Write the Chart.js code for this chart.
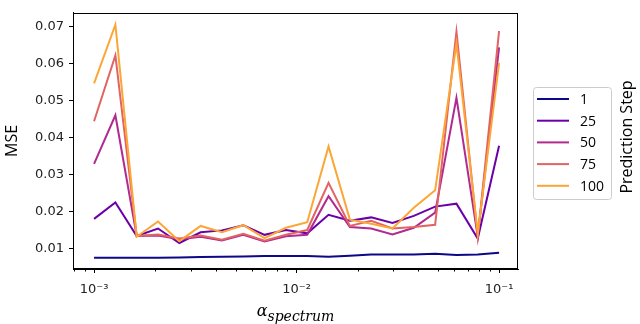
<!DOCTYPE html>
<html>
<head>
<meta charset="utf-8">
<script src="https://cdn.jsdelivr.net/npm/chart.js@4.4.0/dist/chart.umd.min.js"></script>
<style>
  html, body { margin: 0; padding: 0; background: #fff; }
  #wrap { width: 640px; height: 324px; }
</style>
</head>
<body>
<div id="wrap"><canvas id="mseChart" width="640" height="324"></canvas></div>
<script>
// alpha_spectrum values (x)
const alphas = [0.001, 0.0012743, 0.0016238, 0.0020691, 0.0026367, 0.0033598, 0.0042813,
  0.0054556, 0.0069519, 0.0088587, 0.011288, 0.014384, 0.018330, 0.023357, 0.029764,
  0.037927, 0.048329, 0.061585, 0.078476, 0.1];

// MSE per prediction step
const step1 = [0.0076, 0.0076, 0.0076, 0.0076, 0.0077, 0.0078, 0.0079, 0.0080, 0.0081, 0.0081,
  0.0081, 0.0079, 0.0082, 0.0085, 0.0085, 0.0085, 0.0087, 0.0084, 0.0085, 0.0090];
const step25 = [0.0181, 0.0225, 0.0135, 0.0155, 0.0116, 0.0145, 0.0150, 0.0164, 0.0138, 0.0151,
  0.0142, 0.0192, 0.0176, 0.0185, 0.0170, 0.0189, 0.0214, 0.0222, 0.0128, 0.0378];
const step50 = [0.0329, 0.0460, 0.0135, 0.0136, 0.0126, 0.0133, 0.0123, 0.0138, 0.0120, 0.0134,
  0.0138, 0.0242, 0.0159, 0.0155, 0.0139, 0.0157, 0.0198, 0.0507, 0.0133, 0.0643];
const step75 = [0.0444, 0.0621, 0.0135, 0.0139, 0.0128, 0.0136, 0.0125, 0.0141, 0.0122, 0.0138,
  0.0151, 0.0278, 0.0162, 0.0176, 0.0155, 0.0159, 0.0165, 0.0685, 0.0133, 0.0687];
const step100 = [0.0546, 0.0704, 0.0133, 0.0174, 0.0121, 0.0162, 0.0145, 0.0164, 0.0129, 0.0157,
  0.0172, 0.0376, 0.0179, 0.0168, 0.0155, 0.0211, 0.0258, 0.0653, 0.0142, 0.0601];

const stepLabels = ["1", "25", "50", "75", "100"];
const stepColors = ["#0d0887", "#6a00a8", "#b12a90", "#e16462", "#fca636"];

const yTicks = [0.01, 0.02, 0.03, 0.04, 0.05, 0.06, 0.07];
const xMajor = [0.001, 0.01, 0.1];
const xMinor = [0.0008, 0.0009, 0.002, 0.003, 0.004, 0.005, 0.006, 0.007, 0.008, 0.009,
  0.02, 0.03, 0.04, 0.05, 0.06, 0.07, 0.08, 0.09];
const xTickText = { 0.001: "10⁻³", 0.01: "10⁻²", 0.1: "10⁻¹" };

const allSeries = [step1, step25, step50, step75, step100];

const datasets = allSeries.map((vals, i) => ({
  label: stepLabels[i],
  data: vals.map((v, j) => ({ x: alphas[j], y: v })),
  borderColor: stepColors[i],
  backgroundColor: stepColors[i],
  borderWidth: 2,
  pointRadius: 0,
  tension: 0,
  fill: false,
  order: allSeries.length - i
}));

// frame, minor ticks, x label and legend drawn on top
const extras = {
  id: "extras",
  afterDraw(chart) {
    const ctx = chart.ctx;
    const a = chart.chartArea;
    const xs = chart.scales.x;
    ctx.save();
    ctx.strokeStyle = "#000";
    ctx.lineWidth = 1;
    ctx.strokeRect(Math.round(a.left) + 0.5, Math.round(a.top) + 0.5,
      Math.round(a.right - a.left) - 1, Math.round(a.bottom - a.top) - 1);

    // minor ticks
    ctx.beginPath();
    xMinor.forEach(v => {
      const px = Math.round(xs.getPixelForValue(v)) + 0.5;
      if (px < a.left || px > a.right) return;
      ctx.moveTo(px, a.bottom);
      ctx.lineTo(px, a.bottom + 2.5);
    });
    ctx.stroke();

    // x axis label
    const cx = (a.left + a.right) / 2;
    ctx.fillStyle = "#000";
    ctx.textBaseline = "alphabetic";
    ctx.textAlign = "left";
    ctx.font = "italic 16px 'DejaVu Serif'";
    const aw = ctx.measureText("α").width;
    ctx.font = "italic 14px 'DejaVu Serif'";
    const sw = ctx.measureText("spectrum").width;
    const x0 = cx - (aw + sw) / 2;
    ctx.font = "italic 16px 'DejaVu Serif'";
    ctx.fillText("α", x0, 316);
    ctx.font = "italic 14px 'DejaVu Serif'";
    ctx.fillText("spectrum", x0 + aw, 321);

    // legend
    const lx = 533.5, ly = 87.5, lw = 78, lh = 112;
    ctx.beginPath();
    ctx.roundRect(lx, ly, lw, lh, 3);
    ctx.fillStyle = "rgba(255,255,255,0.8)";
    ctx.fill();
    ctx.strokeStyle = "#cccccc";
    ctx.stroke();
    ctx.font = "14px 'Open Sans'";
    ctx.textBaseline = "middle";
    chart.data.datasets.forEach((ds, i) => {
      const y = 99 + i * 21.7;
      ctx.strokeStyle = ds.borderColor;
      ctx.lineWidth = 2;
      ctx.beginPath();
      ctx.moveTo(537, y);
      ctx.lineTo(569, y);
      ctx.stroke();
      ctx.fillStyle = "#000";
      ctx.fillText(ds.label, 580, y + 1);
    });

    // legend title
    ctx.translate(627, 137);
    ctx.rotate(-Math.PI / 2);
    ctx.textAlign = "center";
    ctx.font = "16px 'Open Sans'";
    ctx.fillText("Prediction Step", 0, 0);
    ctx.restore();
  }
};

new Chart(document.getElementById("mseChart"), {
  type: "line",
  data: { datasets: datasets },
  options: {
    responsive: false,
    animation: false,
    devicePixelRatio: 1,
    layout: { padding: { left: 0, right: 122, top: 1, bottom: 0 } },
    plugins: { legend: { display: false }, tooltip: { enabled: false } },
    scales: {
      x: {
        type: "logarithmic",
        min: 0.000787,
        max: 0.124,
        afterBuildTicks: scale => { scale.ticks = xMajor.map(v => ({ value: v, major: true })); },
        afterFit: scale => { scale.height = 55; },
        border: { display: true, color: "#000", width: 1 },
        grid: { drawOnChartArea: false, drawTicks: true, tickLength: 4, tickColor: "#000" },
        ticks: {
          autoSkip: false,
          maxRotation: 0,
          padding: 9,
          color: "#222",
          font: { family: "DejaVu Sans", size: 13 },
          callback: v => xTickText[v] || ""
        }
      },
      y: {
        type: "linear",
        min: 0.0046,
        max: 0.0736,
        afterBuildTicks: scale => { scale.ticks = yTicks.map(v => ({ value: v })); },
        afterFit: scale => { scale.width = 73; },
        border: { display: true, color: "#000", width: 1 },
        grid: { drawOnChartArea: false, drawTicks: true, tickLength: 4, tickColor: "#000" },
        ticks: {
          padding: 5,
          color: "#222",
          font: { family: "DejaVu Sans", size: 13 },
          callback: v => v.toFixed(2)
        },
        title: {
          display: true,
          text: "MSE",
          color: "#000",
          font: { family: "Open Sans", size: 16 },
          padding: { top: 3, bottom: 0 }
        }
      }
    }
  },
  plugins: [extras]
});
</script>
</body>
</html>
